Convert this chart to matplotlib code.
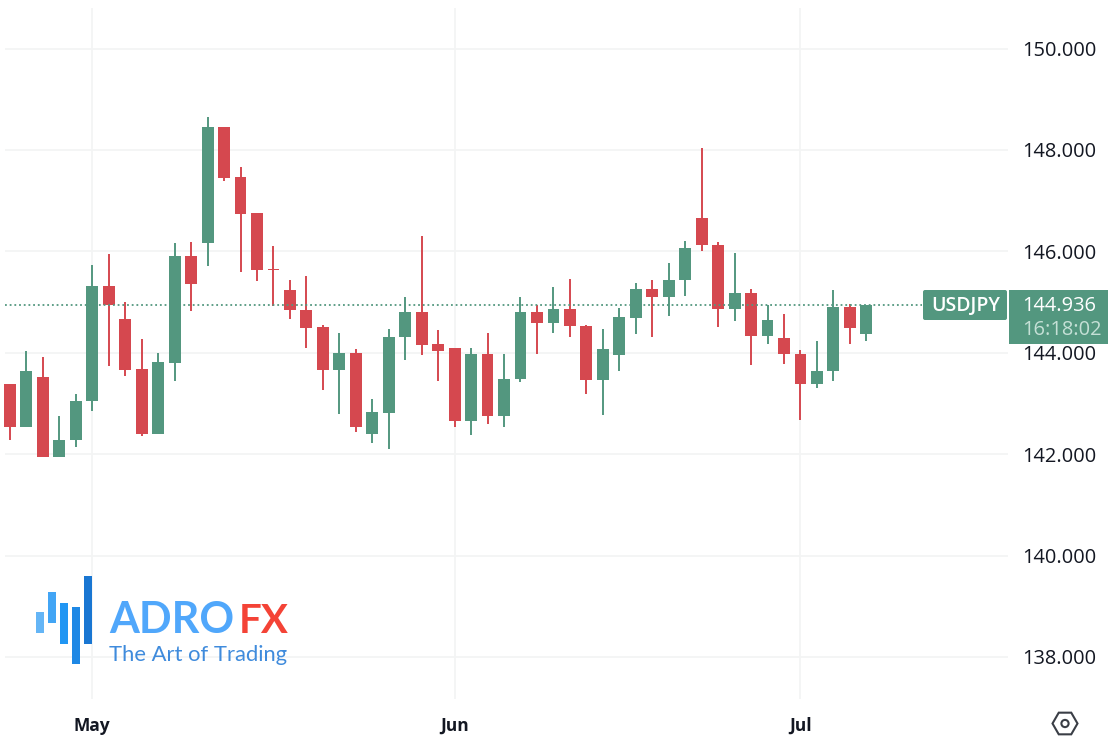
import matplotlib
matplotlib.use("Agg")
import matplotlib.pyplot as plt
from matplotlib.patches import Rectangle, FancyBboxPatch, RegularPolygon, Circle

# Daily USDJPY candles, May to early July
opens = [143.38, 142.54, 143.52, 141.95, 142.27, 143.04, 145.32, 144.66, 143.68, 142.39,
         143.80, 145.90, 146.16, 148.46, 147.46, 146.75, 145.65, 145.23, 144.84, 144.50,
         143.65, 144.00, 142.40, 142.82, 144.31, 144.81, 144.17, 144.10, 142.65, 143.97,
         142.75, 143.48, 144.81, 144.58, 144.86, 144.52, 143.46, 143.96, 144.69, 145.25,
         145.10, 145.44, 146.65, 146.13, 144.87, 145.17, 144.33, 144.29, 143.98, 143.38,
         143.64, 144.90, 144.37]
highs = [143.39, 144.04, 143.91, 142.76, 143.18, 145.73, 145.94, 145.00, 144.27, 144.00,
         146.17, 146.19, 148.65, 148.46, 147.66, 146.75, 146.11, 145.44, 145.51, 144.54,
         144.39, 144.07, 143.08, 144.46, 145.09, 146.30, 144.44, 144.10, 144.10, 144.39,
         143.98, 145.09, 144.95, 145.29, 145.46, 144.54, 144.47, 144.88, 145.38, 145.44,
         145.77, 146.20, 148.04, 146.18, 145.96, 145.25, 144.95, 144.77, 144.05, 144.24,
         145.24, 144.97, 144.95]
lows = [142.28, 142.54, 141.95, 141.95, 142.15, 142.86, 143.73, 143.54, 142.36, 142.39,
        143.44, 144.82, 145.71, 147.38, 145.59, 145.41, 144.92, 144.66, 144.09, 143.27,
        142.80, 142.43, 142.22, 142.10, 143.85, 143.96, 143.45, 142.54, 142.38, 142.59,
        142.53, 143.43, 143.97, 144.39, 144.32, 143.18, 142.78, 143.64, 144.37, 144.32,
        144.73, 145.12, 146.01, 144.51, 144.62, 143.75, 144.18, 143.78, 142.68, 143.31,
        143.45, 144.18, 144.23]
closes = [142.54, 143.64, 141.95, 142.28, 143.05, 145.32, 144.94, 143.66, 142.39, 143.81,
          145.90, 145.35, 148.46, 147.45, 146.74, 145.64, 145.63, 144.84, 144.48, 143.65,
          144.00, 142.53, 142.83, 144.31, 144.81, 144.16, 144.03, 142.65, 143.97, 142.75,
          143.49, 144.81, 144.58, 144.86, 144.52, 143.46, 144.07, 144.70, 145.25, 145.10,
          145.44, 146.07, 146.13, 144.87, 145.17, 144.33, 144.64, 143.97, 143.38, 143.64,
          144.90, 144.48, 144.936]

last_price = 144.936
price_ticks = [138, 140, 142, 144, 146, 148, 150]
month_ticks = [5, 27, 48]
month_labels = ["May", "Jun", "Jul"]

GREEN = "#53977F"
RED = "#D5484F"
W, H = 1114, 747

fig = plt.figure(figsize=(W / 100, H / 100), dpi=100, facecolor="white")
plt.rcParams["font.family"] = "Open Sans"

# chart axes, placed to line up with the reference price scale
ax = fig.add_axes([5 / W, 1 - 699 / H, 1003 / W, 691 / H])
ax.set_xlim(-0.30, 60.6)
ax.set_ylim(137.17, 150.80)
for s in ax.spines.values():
    s.set_visible(False)

ax.set_axisbelow(True)
ax.grid(True, color="#F3F4F4", linewidth=1.3)
ax.yaxis.tick_right()
ax.set_yticks(price_ticks)
ax.set_yticklabels([f"{p:.3f}" for p in price_ticks], fontsize=14.4, color="#131722")
ax.set_xticks(month_ticks)
ax.set_xticklabels(month_labels, fontsize=12.5, fontweight="bold", color="#131722")
ax.tick_params(axis="y", length=0, pad=10)
ax.tick_params(axis="x", length=0, pad=13)

# candles
for i in range(len(opens)):
    color = GREEN if closes[i] >= opens[i] else RED
    ax.vlines(i, lows[i], highs[i], color=color, linewidth=1.4, zorder=3, clip_on=False)
    bottom = min(opens[i], closes[i])
    height = max(abs(closes[i] - opens[i]), 0.03)
    ax.bar(i, height, bottom=bottom, width=0.72, color=color, zorder=3, clip_on=False)

# last price line
ax.plot([-0.3, 55.4], [last_price, last_price], color=GREEN, linewidth=1.3,
        linestyle=(0, (1, 1.6)), zorder=4, clip_on=False)

# overlay in pixel coordinates for the labels and logo
ov = fig.add_axes([0, 0, 1, 1], facecolor="none")
ov.set_xlim(0, W)
ov.set_ylim(H, 0)
ov.axis("off")

ov.add_patch(FancyBboxPatch((923, 290), 84, 30, boxstyle="round,pad=0,rounding_size=2",
                            facecolor=GREEN, edgecolor="none", mutation_aspect=1))
ov.text(966, 306, "USDJPY", color="white", fontsize=14, ha="center", va="center",
        fontweight="semibold")
ov.add_patch(Rectangle((1008.5, 290), 99.5, 54, facecolor=GREEN, edgecolor="none"))
ov.text(1059, 306, f"{last_price:.3f}", color="white", fontsize=14.4, ha="center", va="center")
ov.text(1062, 330, "16:18:02", color="#C5E0D6", fontsize=14.4, ha="center", va="center")

# logo bars
logo_x = [36, 48, 60, 72, 84]
logo_top = [612, 592, 603, 607, 576]
logo_bottom = [633, 623, 644, 664, 644]
logo_colors = ["#64B5F6", "#42A5F5", "#2196F3", "#1E88E5", "#1976D2"]
for x, top, bottom, c in zip(logo_x, logo_top, logo_bottom, logo_colors):
    ov.add_patch(Rectangle((x, top), 8, bottom - top, facecolor=c, edgecolor="none"))
ov.text(109, 633, "ADRO", color="#50A7FB", fontsize=31, fontweight="bold",
        family="Lato", ha="left", va="baseline")
ov.text(239, 633, "FX", color="#F44336", fontsize=29, fontweight="bold",
        family="Lato", ha="left", va="baseline")
ov.text(109, 661, "The Art of Trading", color="#3F8BDC", fontsize=15.8,
        family="Lato", ha="left", va="baseline")

# settings icon bottom right
ov.add_patch(RegularPolygon((1065, 723.5), 6, radius=12.5, orientation=0.5236, fill=False,
                            edgecolor="#3A3E46", linewidth=1.5))
ov.add_patch(Circle((1065, 723.5), 3.6, fill=False, edgecolor="#3A3E46", linewidth=1.5))

fig.savefig("out.png", dpi=100, facecolor="white")
